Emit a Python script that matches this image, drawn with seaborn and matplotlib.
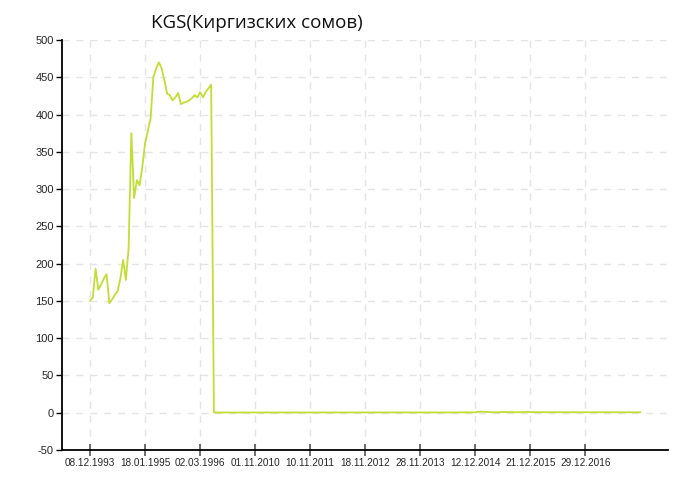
import numpy as np
import pandas as pd
import matplotlib
matplotlib.use("Agg")
import matplotlib.pyplot as plt
import seaborn as sns

# KGS rate (one value per step, 20 steps between labels)
early = [150, 155, 193, 165, 172, 180, 186, 147, 152, 158,
         163, 180, 205, 178, 220, 375, 288, 312, 305, 330,
         362, 378, 395, 450, 462, 470, 462, 446, 428, 426,
         419, 423, 429, 414, 416, 417, 419, 422, 426, 423,
         430, 423, 430, 435, 440]
late = [0.3, 0.3, 0.3, 0.3, 0.3, 0.3, 0.3, 0.3, 0.3, 0.3, 0.3, 0.3, 0.3, 0.3, 0.3,
        0.3, 0.3, 0.3, 0.3, 0.3, 0.3, 0.3, 0.3, 0.3, 0.3, 0.3, 0.3, 0.3, 0.3, 0.3,
        0.4, 0.4, 0.4, 0.4, 0.4, 0.4, 0.4, 0.4, 0.4, 0.4, 0.4, 0.4, 0.4, 0.4, 0.4,
        0.4, 0.4, 0.4, 0.4, 0.4, 0.4, 0.4, 0.4, 0.4, 0.4, 0.4, 0.4, 0.4, 0.4, 0.4,
        0.4, 0.4, 0.4, 0.4, 0.4, 0.4, 0.4, 0.4, 0.4, 0.4, 0.4, 0.4, 0.4, 0.4, 0.4,
        0.4, 0.4, 0.4, 0.4, 0.4, 0.4, 0.4, 0.4, 0.4, 0.4, 0.4, 0.4, 0.4, 0.4, 0.4,
        0.5, 0.5, 0.5, 0.5, 0.5, 0.5, 1.2, 1.4, 1.3, 1.1, 0.7, 0.6, 0.6, 0.6, 0.8,
        1.0, 0.9, 1.0, 0.8, 0.7, 0.6, 0.7, 0.8, 1.0, 1.1, 0.9, 0.7, 0.7, 0.6, 0.6,
        0.6, 0.6, 0.6, 0.6, 0.6, 0.6, 0.6, 0.6, 0.6, 0.6, 0.6, 0.6, 0.6, 0.6, 0.6,
        0.6, 0.6, 0.6, 0.6, 0.6, 0.6, 0.6, 0.6, 0.6, 0.6, 0.6, 0.6, 0.6, 0.6, 0.6,
        0.6, 0.6, 0.6, 0.6, 0.6, 0.6]
dates = ["08.12.1993", "18.01.1995", "02.03.1996", "01.11.2010", "10.11.2011",
         "18.11.2012", "28.11.2013", "12.12.2014", "21.12.2015", "29.12.2016"]
step = 20

rate = early + late
df = pd.DataFrame({"i": np.arange(len(rate)), "rate": rate})

sns.set_theme(style="white")
plt.rcParams["font.family"] = ["Liberation Sans", "DejaVu Sans"]
plt.rcParams["axes.unicode_minus"] = False

fig = plt.figure(figsize=(7, 5), dpi=100)
ax = fig.add_axes([62 / 700, 0.1, (668 - 62) / 700, 0.82])

sns.lineplot(data=df, x="i", y="rate", ax=ax, color="#c0de34", linewidth=1.3)

ax.set_xlim(-10.2, 210)
ax.set_ylim(-50, 500)
ax.set_yticks(np.arange(-50, 501, 50))
ax.set_xticks(np.arange(len(dates)) * step)
ax.set_xticklabels(dates)
ax.set_xlabel("")
ax.set_ylabel("")

ax.grid(True, color="#e4e4e4", linestyle=(0, (5, 5)), linewidth=1)
ax.set_axisbelow(True)
for s in ["top", "right"]:
    ax.spines[s].set_visible(False)
for s in ["left", "bottom"]:
    ax.spines[s].set_color("black")
    ax.spines[s].set_linewidth(1.3)

ax.tick_params(axis="y", length=4, width=1, color="black", labelsize=8, pad=2, left=True)
ax.tick_params(axis="x", direction="inout", length=8, width=1.2, color="#555555",
               labelsize=7.2, pad=2, bottom=True)

fig.text(257 / 700, 1 - 23 / 500, "KGS(Киргизских сомов)", ha="center", va="center",
         fontsize=13.5, family=["Open Sans", "DejaVu Sans"], color="#111111")

fig.savefig("out.png", dpi=100)
